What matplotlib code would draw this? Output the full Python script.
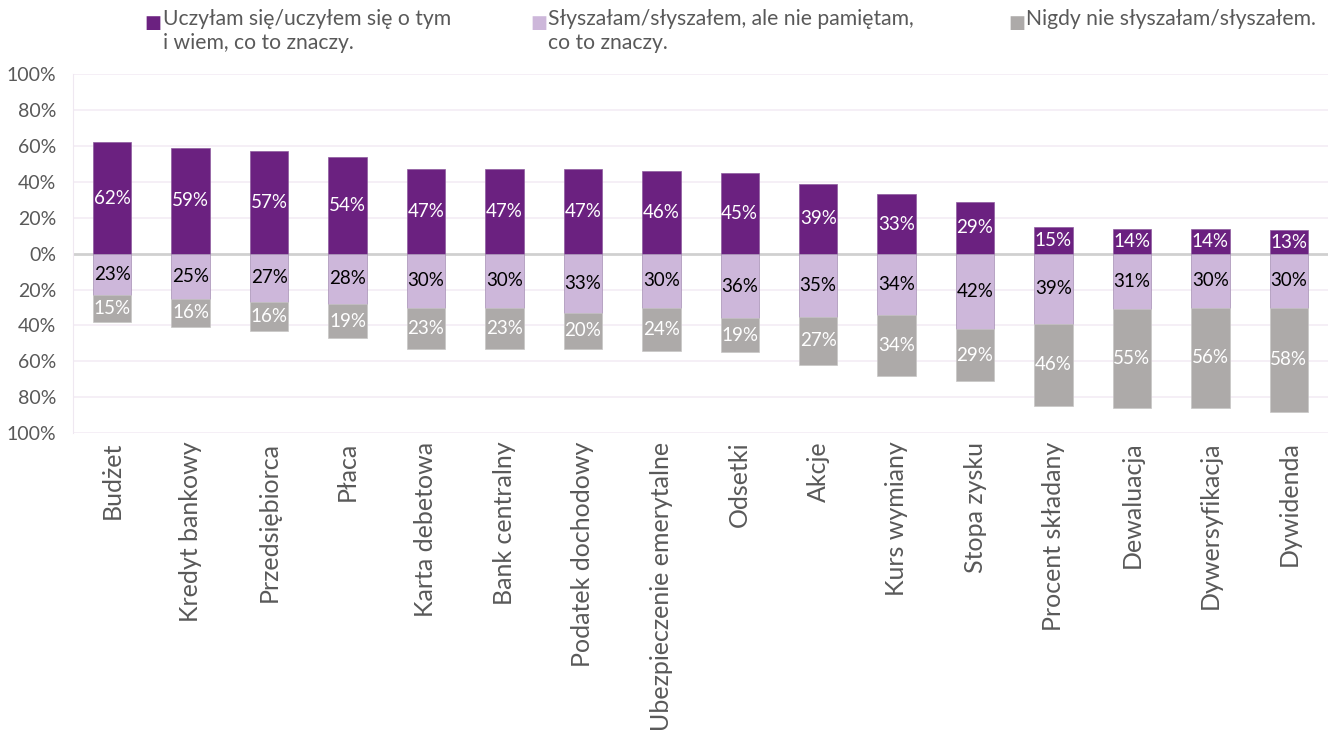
import matplotlib
matplotlib.use("Agg")
import matplotlib.pyplot as plt
import numpy as np

# dane z wykresu
kategorie = ["Budżet", "Kredyt bankowy", "Przedsiębiorca", "Płaca", "Karta debetowa",
             "Bank centralny", "Podatek dochodowy", "Ubezpieczenie emerytalne", "Odsetki",
             "Akcje", "Kurs wymiany", "Stopa zysku", "Procent składany", "Dewaluacja",
             "Dywersyfikacja", "Dywidenda"]
uczylem = [62, 59, 57, 54, 47, 47, 47, 46, 45, 39, 33, 29, 15, 14, 14, 13]
slyszalem = [23, 25, 27, 28, 30, 30, 33, 30, 36, 35, 34, 42, 39, 31, 30, 30]
nigdy = [15, 16, 16, 19, 23, 23, 20, 24, 19, 27, 34, 29, 46, 55, 56, 58]

legenda = ["Uczyłam się/uczyłem się o tym\ni wiem, co to znaczy.",
           "Słyszałam/słyszałem, ale nie pamiętam,\nco to znaczy.",
           "Nigdy nie słyszałam/słyszałem."]

c_fiolet = "#6B2180"
c_lawenda = "#CDB7DA"
c_szary = "#ADAAA9"
c_tekst = "#595959"

plt.rcParams["font.family"] = ["Lato", "DejaVu Sans"]

fig = plt.figure(figsize=(13.28, 7.38), dpi=100)
ax = fig.add_axes([0.055, 0.413, 0.945, 0.4865])

x = np.arange(len(kategorie))
u = np.array(uczylem)
s = np.array(slyszalem)
n = np.array(nigdy)
w = 0.49

ax.bar(x, u, w, color=c_fiolet, edgecolor="#8E5C9E", linewidth=0.5, zorder=3)
ax.bar(x, -s, w, color=c_lawenda, edgecolor="#A58FB3", linewidth=0.5, zorder=3)
ax.bar(x, -n, w, bottom=-s, color=c_szary, edgecolor="#C8C6C6", linewidth=0.5, zorder=3)

fs = 13.5
for i in range(len(x)):
    ax.text(x[i], u[i] / 2, f"{u[i]}%", ha="center", va="center", color="white", fontsize=fs, zorder=4)
    ax.text(x[i], -s[i] / 2, f"{s[i]}%", ha="center", va="center", color="black", fontsize=fs, zorder=4)
    ax.text(x[i], -s[i] - n[i] / 2, f"{n[i]}%", ha="center", va="center", color="white", fontsize=fs, zorder=4)

ax.set_xlim(-0.5, 15.5)
ax.set_ylim(-100, 100)
yt = np.arange(-100, 101, 20)
ax.set_yticks(yt)
ax.set_yticklabels([f"{abs(v)}%" for v in yt], color=c_tekst, fontsize=14)
ax.set_xticks(x)
ax.set_xticklabels(kategorie, rotation=90, color=c_tekst, fontsize=18)
ax.tick_params(length=0, pad=6)
ax.tick_params(axis="y", pad=12)

for v in yt:
    if v != 0:
        ax.axhline(v, color="#F3ECF5", linewidth=1.2, zorder=1)
ax.axhline(0, color="#D0D0D0", linewidth=2, zorder=2)
for sp in ["top", "right", "bottom"]:
    ax.spines[sp].set_visible(False)
ax.spines["left"].set_color("#EFE8F1")

# legenda u góry
poz = [(0.109, c_fiolet), (0.399, c_lawenda), (0.759, c_szary)]
for (px, kol), txt in zip(poz, legenda):
    fig.text(px, 0.969, "■", color=kol, fontsize=13, family="DejaVu Sans", va="center")
    fig.text(px + 0.0135, 0.988, txt, color=c_tekst, fontsize=15.2, va="top", linespacing=1.25)

fig.savefig("out.png", dpi=100)
